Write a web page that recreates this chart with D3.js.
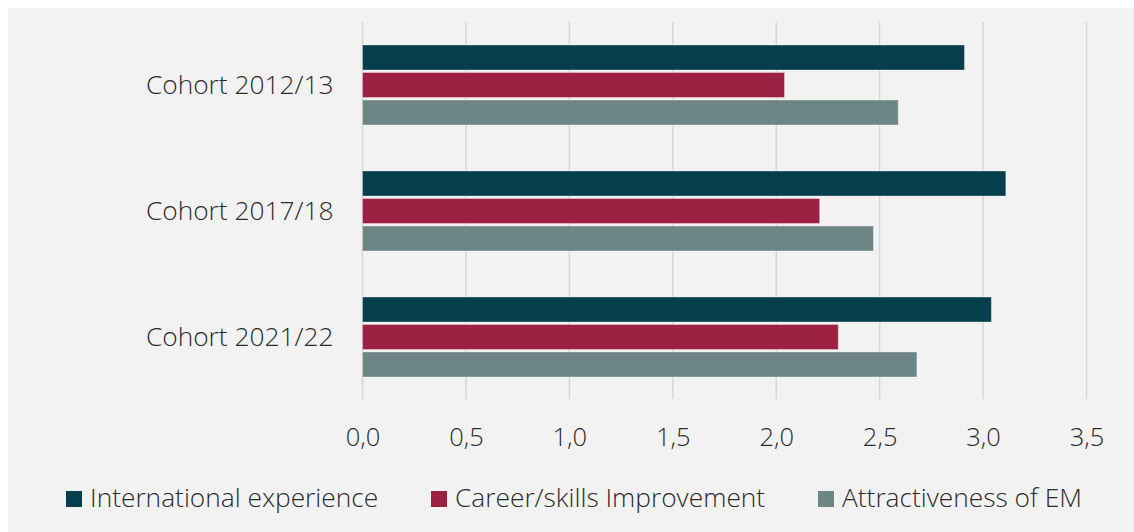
<!DOCTYPE html>
<html><head><meta charset="utf-8">
<script src="https://cdn.jsdelivr.net/npm/d3@7"></script>
<style>
html,body{margin:0;padding:0;background:#fff;}
svg{display:block;}
text{font-family:"Open Sans",sans-serif;fill:#2b2b2b;font-weight:300;}
</style></head>
<body>
<svg id="chart" width="1134" height="532"></svg>
<script>
const categories = ["Cohort 2012/13", "Cohort 2017/18", "Cohort 2021/22"];
const seriesNames = ["International experience", "Career/skills Improvement", "Attractiveness of EM"];
const internationalExperience = [2.91, 3.11, 3.04];
const careerSkills = [2.04, 2.21, 2.30];
const attractivenessEM = [2.59, 2.47, 2.68];
const tickValues = [0, 0.5, 1, 1.5, 2, 2.5, 3, 3.5];
const colors = ["#053e4c", "#9c2243", "#6d8584"];

const seriesValues = [internationalExperience, careerSkills, attractivenessEM];
const svg = d3.select("#chart");
svg.append("rect").attr("x",8).attr("y",8).attr("width",1126).attr("height",524).attr("fill","#f2f2f2");

const x = d3.scaleLinear().domain([0,3.5]).range([362.5,1086.5]);
const y = d3.scaleBand().domain(categories).range([22,400]).paddingInner(0.365).paddingOuter(0.1825);
const ySub = d3.scaleBand().domain(seriesNames).range([0,y.bandwidth()]).paddingInner(0.09);

// gridlines
svg.append("g").selectAll("line").data(tickValues).join("line")
  .attr("x1",d=>x(d)).attr("x2",d=>x(d)).attr("y1",22).attr("y2",399)
  .attr("stroke","#d6d6d6").attr("stroke-width",1.5);

// tick labels via axis
const axis = svg.append("g").attr("transform","translate(0,399)")
  .call(d3.axisBottom(x).tickValues(tickValues).tickSize(0).tickPadding(0)
    .tickFormat(d=>d3.format(".1f")(d).replace(".",",")));
axis.select(".domain").remove();
axis.selectAll("text").attr("y",47).attr("dy",0).attr("font-size",25.5).attr("fill","#2b2b2b")
  .style("font-family",'"Open Sans",sans-serif');

// bars
const groups = svg.append("g").selectAll("g").data(categories).join("g")
  .attr("transform",c=>`translate(0,${y(c)})`);
groups.selectAll("rect").data((c,i)=>seriesNames.map((s,j)=>({s,j,v:seriesValues[j][i]}))).join("rect")
  .attr("x",x(0)).attr("y",d=>ySub(d.s)).attr("height",ySub.bandwidth())
  .attr("width",d=>x(d.v)-x(0)).attr("fill",(d)=>colors[d.j])
  .attr("stroke","rgba(255,255,255,0.35)").attr("stroke-width",1);

// category labels
const yAxis = svg.append("g").attr("transform",`translate(${x(0)},0)`)
  .call(d3.axisLeft(y).tickSize(0).tickPadding(29));
yAxis.select(".domain").remove();
yAxis.selectAll("text").attr("font-size",26.3).attr("dy","0.36em").attr("fill","#2b2b2b")
  .style("font-family",'"Open Sans",sans-serif');

// legend
const legendX = [66, 431, 818];
const lg = svg.append("g").selectAll("g").data(seriesNames).join("g")
  .attr("transform",(d,i)=>`translate(${legendX[i]},0)`);
lg.append("rect").attr("x",0).attr("y",491).attr("width",16).attr("height",16)
  .attr("fill",(d,i)=>colors[i]);
lg.append("text").attr("x",24).attr("y",507).attr("font-size",26.3).text(d=>d);
</script>
</body></html>
